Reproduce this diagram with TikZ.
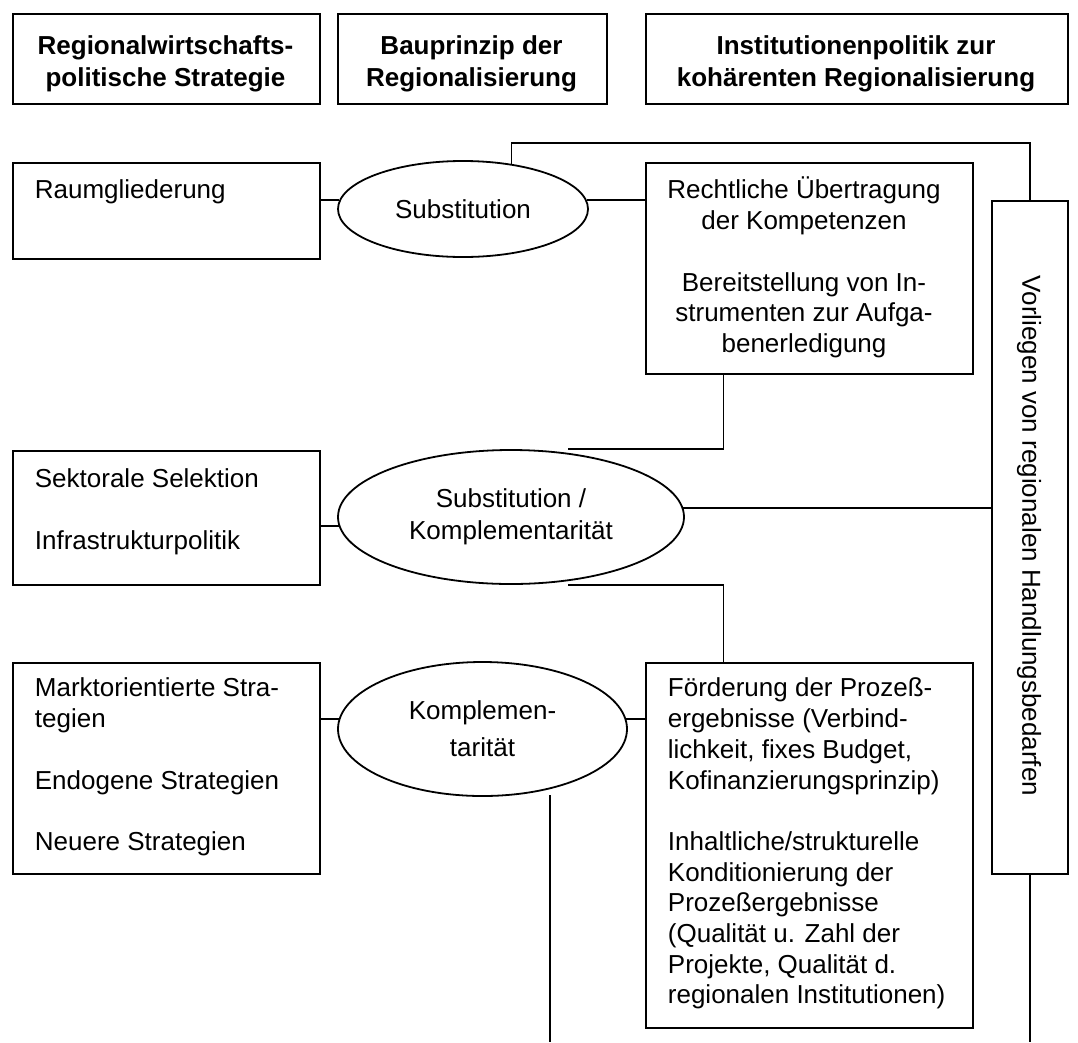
\documentclass[tikz,border=0pt]{standalone}
\usepackage{fontspec}
\setmainfont{Liberation Sans}
\usetikzlibrary{shapes.geometric,calc}
\newcommand\myfs{\fontsize{26pt}{30.7pt}\selectfont}
\newcommand\fl{\rule{0pt}{24pt}}
\begin{document}
\begin{tikzpicture}[x=1pt,y=-1pt,line width=1.8pt,
  box/.style={draw,rectangle,inner sep=0pt,anchor=north west},
  oval/.style={draw,ellipse,inner sep=0pt,align=center,font=\myfs},
  txt/.style={inner sep=0pt,anchor=north west,align=left,font=\myfs},
  ctxt/.style={inner sep=0pt,anchor=north,align=center,font=\myfs},
  htxt/.style={ctxt,font=\bfseries\myfs}]
\useasboundingbox (0,0) rectangle (1078,1042);
% headers (text nodes: first baseline = y + 24)
\node[box,minimum width=307pt,minimum height=90pt] (h1) at (12,13) {};
\node[htxt] (h1t) at (165.5,30) {\fl Regionalwirtschafts-\\[1.3pt]politische Strategie};
\node[box,minimum width=269pt,minimum height=90pt] (h2) at (337,13) {};
\node[htxt] (h2t) at (471.5,30) {\fl Bauprinzip der\\[1.3pt]Regionalisierung};
\node[box,minimum width=422pt,minimum height=90pt] (h3) at (645,13) {};
\node[htxt] (h3t) at (856,30) {\fl Institutionenpolitik zur\\[1.3pt]koh\"arenten Regionalisierung};
% left boxes
\node[box,minimum width=307pt,minimum height=96pt] (raum) at (12,162) {};
\node[txt] (raumt) at (34,174) {\fl Raumgliederung};
\node[box,minimum width=307pt,minimum height=134pt] (sekt) at (12,450) {};
\node[txt] (sektt) at (34,463) {\fl Sektorale Selektion\\[30.7pt]Infrastrukturpolitik};
\node[box,minimum width=307pt,minimum height=211pt] (markt) at (12,662) {};
\node[txt] (marktt) at (34,672) {\fl Marktorientierte Stra-\\tegien\\[30.7pt]Endogene Strategien\\[30.7pt]Neuere Strategien};
% ellipses
\node[oval,minimum width=250pt,minimum height=96pt] (sub1) at (463,209) {Substitution};
\node[oval,minimum width=346pt,minimum height=134pt] (sub2) at (511,517) {Substitution /\\[1.3pt]Komplementarit\"at};
\node[oval,minimum width=289pt,minimum height=134pt] (sub3) at (482.5,729) {Komplemen-\\[6.3pt]tarit\"at};
% right boxes
\node[box,minimum width=327pt,minimum height=211pt] (recht) at (645,162) {};
\node[ctxt] (rechtt) at (804,174) {\fl Rechtliche \"Ubertragung\\der Kompetenzen\\[30.7pt]Bereitstellung von In-\\strumenten zur Aufga-\\benerledigung};
\node[box,minimum width=327pt,minimum height=365pt] (foerd) at (645,662) {};
\node[txt] (foerdt) at (667,672) {\fl F\"orderung der Proze\ss-\\ergebnisse (Verbind-\\lichkeit, fixes Budget,\\Kofinanzierungsprinzip)\\[30.7pt]Inhaltliche/strukturelle\\Konditionierung der\\Proze\ss ergebnisse\\(Qualit\"at u. Zahl der\\Projekte, Qualit\"at d.\\regionalen Institutionen)};
% vertical box
\node[box,minimum width=76pt,minimum height=673pt] (vbox) at (991,200) {};
\node[rotate=-90,font=\myfs,inner sep=0pt] (vtxt) at (1029,536) {Vorliegen von regionalen Handlungsbedarfen};
% helper coordinates
\coordinate (topy) at (0,143);
\coordinate (rb) at ($(recht.south west)!0.2385!(recht.south east)$);
\coordinate (e3a) at (550,795);
\coordinate (e3b) at (550,1042);
% connectors
\draw (raum.east |- sub1.176) -- (sub1.176);
\draw (sub1.4) -- (recht.west |- sub1.4);
\draw (sub1.43) |- (topy -| vbox.north) -- (vbox.north);
\draw (rb) |- ($(sub2.north)+(57,0)$);
\draw ($(sub2.south)+(57,0)$) -| (rb |- foerd.north);
\draw (sekt.east |- sub2.183) -- (sub2.183);
\draw (sub2.3) -- (vbox.west |- sub2.3);
\draw (markt.east |- sub3.176) -- (sub3.176);
\draw (sub3.4) -- (foerd.west |- sub3.4);
\draw (e3a) -- (e3b);
\draw (vbox.south) -- (vbox.south |- e3b);
\end{tikzpicture}
\end{document}
